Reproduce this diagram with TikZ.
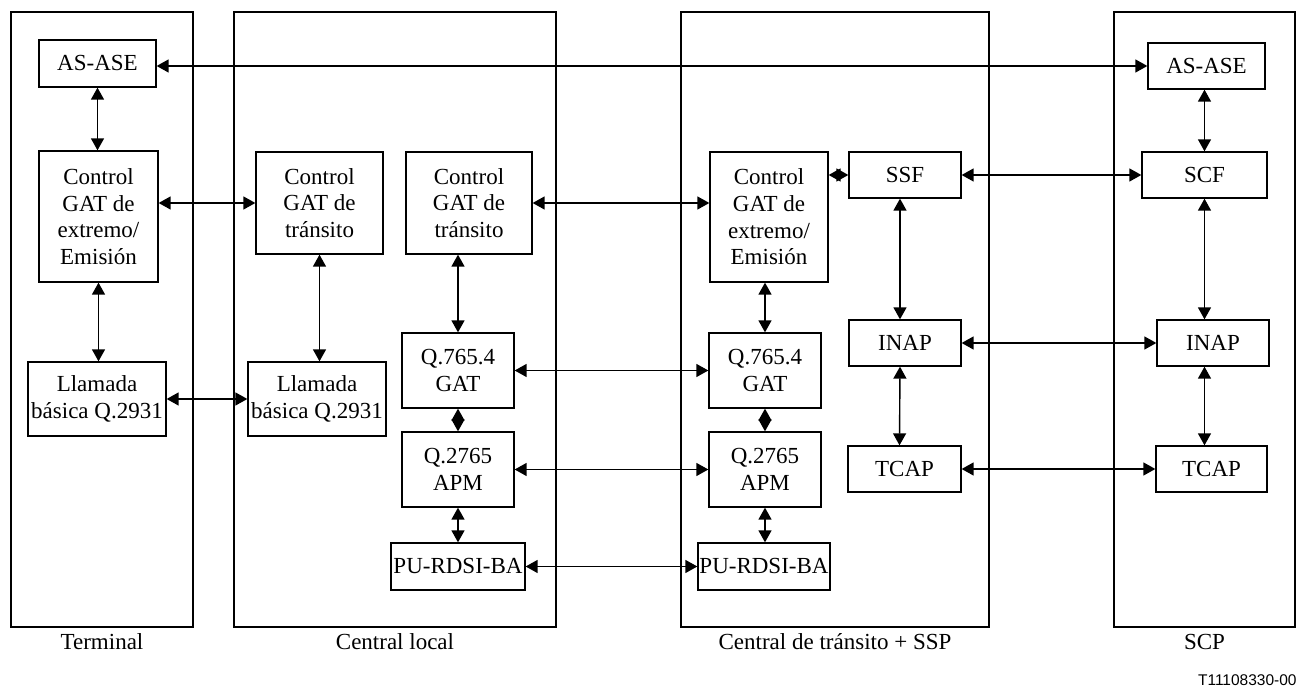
\documentclass[tikz,border=0pt]{standalone}
\usepackage{fontspec}
\setmainfont{Liberation Serif}
\newfontfamily\tagfont{Liberation Sans}
\usetikzlibrary{arrows.meta}

\tikzset{
  box/.style={draw, line width=0.65pt, inner sep=0pt, align=center,
    font=\fontsize{11.5}{13.35}\selectfont},
  link/.style={line width=0.7pt,
    {Triangle[length=6pt,width=6.5pt]}-{Triangle[length=6pt,width=6.5pt]}},
  lbl/.style={font=\fontsize{11.5}{13.35}\selectfont, inner sep=0pt, anchor=base},
}
%% block from its corners (x1,y1) (x2,y2), in pixels of the page
\newcommand\blk[6]{\node[box, minimum width={(#4-#2)*0.5pt},
  minimum height={(#5-#3)*0.5pt}] (#1) at ({(#2+#4)/2},{(#3+#5)/2}) {#6};}

\begin{document}
\begin{tikzpicture}[x=0.5pt,y=-0.5pt]
        \useasboundingbox (0,0) rectangle (1298,688);
        %% frames
        \blk{term}{11}{12}{193}{627}{}
        \blk{cloc}{234}{12}{556}{627}{}
        \blk{ctra}{681}{12}{989}{627}{}
        \blk{scp}{1114}{12}{1295}{627}{}
        \node[lbl] (nTerm) at (term.south |- 0,650) {Terminal};
        \node[lbl] (nLoc) at (cloc.south |- 0,650) {Central local};
        \node[lbl] (nTra) at (ctra.south |- 0,650) {Central de tránsito + SSP};
        \node[lbl] (nScp) at (scp.south |- 0,650) {SCP};
        \node[font=\tagfont\fontsize{7.75}{9}\selectfont, inner sep=0pt,
          anchor=south east] (fig) at (1297,686) {T11108330-00};
        %% Terminal
        \blk{eAS}{39}{40}{156}{87}{AS-ASE}
        \blk{eCtl}{39}{151}{158}{282}{Control\\GAT de\\extremo/\\Emisión}
        \blk{eLl}{28}{362}{166}{436}{Llamada\\básica Q.2931}
        %% Central local
        \blk{lCt}{256}{152}{383}{254}{Control\\GAT de\\tránsito}
        \blk{lLl}{248}{362}{386}{436}{Llamada\\básica Q.2931}
        \blk{lCr}{406}{152}{532}{254}{Control\\GAT de\\tránsito}
        \blk{lQg}{402}{333}{514}{408}{Q.765.4\\GAT}
        \blk{lQa}{402}{432}{514}{507}{Q.2765\\APM}
        \blk{lPu}{391}{543}{525}{590}{PU-RDSI-BA}
        %% Central de transito + SSP
        \blk{tCtl}{710}{152}{828}{282}{Control\\GAT de\\extremo/\\Emisión}
        \blk{tQg}{709}{333}{821}{408}{Q.765.4\\GAT}
        \blk{tQa}{709}{432}{821}{507}{Q.2765\\APM}
        \blk{tPu}{698}{543}{830}{590}{PU-RDSI-BA}
        \blk{tSSF}{849}{152}{961}{198}{SSF}
        \blk{tIN}{849}{320}{961}{366}{INAP}
        \blk{tTC}{848}{446}{961}{492}{TCAP}
        %% SCP
        \blk{sAS}{1148}{43}{1265}{89}{AS-ASE}
        \blk{sSCF}{1142}{152}{1267}{198}{SCF}
        \blk{sIN}{1157}{320}{1269}{366}{INAP}
        \blk{sTC}{1156}{446}{1267}{492}{TCAP}
        %% links across
        \draw[link] (eAS.east |- sAS.west) -- (sAS.west);
        \draw[link] (eCtl.east |- lCt.west) -- (lCt.west);
        \draw[link] (eLl.east) -- (lLl.west);
        \draw[link] (lCr.east) -- (tCtl.west |- lCr.east);
        \draw[link] (lQg.east) -- (tQg.west);
        \draw[link] (lQa.east) -- (tQa.west);
        \draw[link] (lPu.east) -- (tPu.west);
        \draw[link] (tCtl.east |- tSSF.west) -- (tSSF.west);
        \draw[link] (tSSF.east) -- (sSCF.west);
        \draw[link] (tIN.east) -- (sIN.west);
        \draw[link] (tTC.east) -- (sTC.west);
        %% links down
        \draw[link] (eAS.south) -- (eAS.south |- eCtl.north);
        \draw[link] (eCtl.south) -- (eCtl.south |- eLl.north);
        \draw[link] (lCt.south) -- (lCt.south |- lLl.north);
        \draw[link] (lCr.south -| lQg.north) -- (lQg.north);
        \draw[link] (lQg) -- (lQa);
        \draw[link] (lQa.south) -- (lPu.north -| lQa.south);
        \draw[link] (tCtl.south -| tQg.north) -- (tQg.north);
        \draw[link] (tQg) -- (tQa);
        \draw[link] (tQa.south) -- (tPu.north -| tQa.south);
        \draw[link] ([xshift=-2.5pt]tSSF.south) -- ([xshift=-2.5pt]tIN.north);
        \draw[link] ([xshift=-2.5pt]tIN.south) -- ([xshift=-2.5pt]tTC.north);
        \draw[link] (sAS.south -| sSCF.north) -- (sSCF.north);
        \draw[link] (sSCF.south) -- (sIN.north -| sSCF.south);
        \draw[link] (sIN.south -| sSCF.south) -- (sTC.north -| sSCF.south);
\end{tikzpicture}
\end{document}
